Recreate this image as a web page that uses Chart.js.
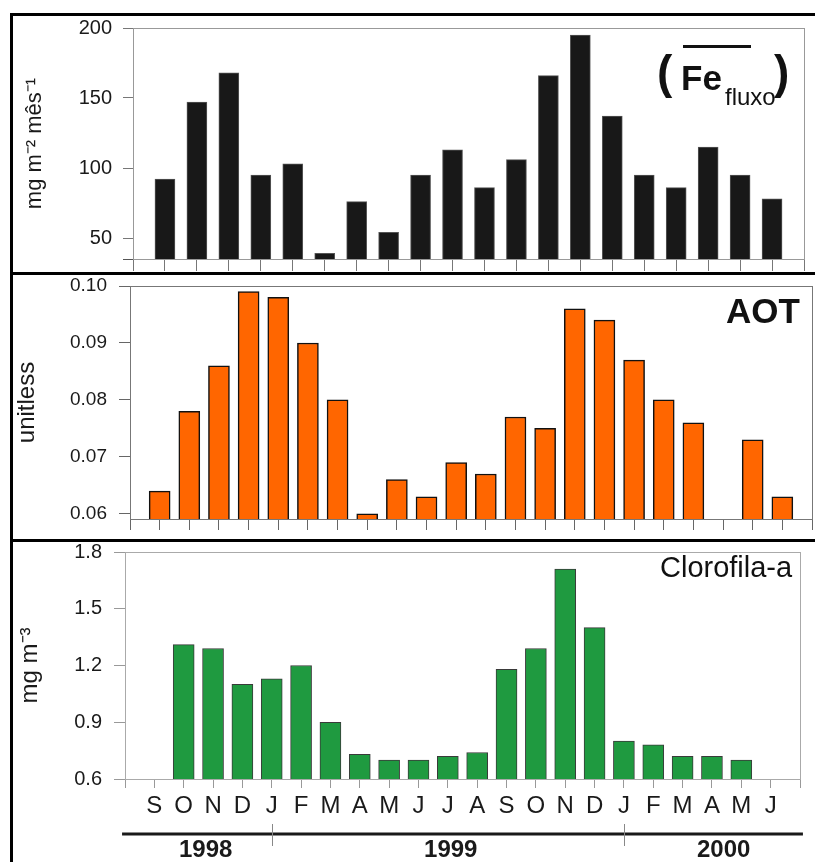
<!DOCTYPE html>
<html>
<head>
<meta charset="utf-8">
<script src="https://cdn.jsdelivr.net/npm/chart.js@4.4.1/dist/chart.umd.min.js"></script>
<style>
  body { margin: 0; background: #fff; }
  #page { position: relative; width: 815px; height: 862px; overflow: hidden;
          font-family: "Liberation Sans", Arial, sans-serif; color: #111; }
  .rule { position: absolute; background: #000; }
  .box { position: absolute; }
  .lbl { position: absolute; white-space: nowrap; line-height: 1; }
</style>
</head>
<body>
<div id="page">
  <div class="rule" style="left:10px;top:13px;width:805px;height:3px"></div>
  <div class="rule" style="left:10px;top:13px;width:3px;height:849px"></div>
  <div class="rule" style="left:10px;top:272px;width:805px;height:3px"></div>
  <div class="rule" style="left:10px;top:539px;width:805px;height:3px"></div>

  <div class="box" style="left:13px;top:16px;width:802px;height:256px"><canvas id="fluxChart"></canvas></div>
  <div class="box" style="left:13px;top:275px;width:802px;height:264px"><canvas id="aotChart"></canvas></div>
  <div class="box" style="left:13px;top:542px;width:802px;height:320px"><canvas id="chlChart"></canvas></div>

  <!-- panel labels -->
  <div class="lbl" style="left:657px;top:49px;font-size:46px;font-weight:bold">(</div>
  <div class="lbl" style="left:681px;top:60px;font-size:35px;font-weight:bold">Fe</div>
  <div class="lbl" style="left:725px;top:85px;font-size:24px">fluxo</div>
  <div class="rule" style="left:683px;top:45px;width:68px;height:3px;background:#111"></div>
  <div class="lbl" style="left:774px;top:49px;font-size:46px;font-weight:bold">)</div>

  <div class="lbl" style="left:726px;top:293px;font-size:35px;font-weight:bold">AOT</div>
  <div class="lbl" style="left:660px;top:553px;font-size:29px">Clorofila-a</div>
</div>

<script>
// values
const months = ['S', 'O', 'N', 'D', 'J', 'F', 'M', 'A', 'M', 'J', 'J',
                'A', 'S', 'O', 'N', 'D', 'J', 'F', 'M', 'A', 'M', 'J'];
const years = ['1998', '1999', '2000'];

const fluxValues = [92, 147, 168, 95, 103, 39, 76, 54, 95, 113,
                    86, 106, 166, 195, 137, 95, 86, 115, 95, 78];
const fluxTicks = [50, 100, 150, 200];

const aotValues = [0.064, 0.078, 0.086, 0.099, 0.098, 0.090, 0.080, 0.060, 0.066, 0.063, 0.069,
                   0.067, 0.077, 0.075, 0.096, 0.094, 0.087, 0.080, 0.076, null, 0.073, 0.063];
const aotTicks = [0.06, 0.07, 0.08, 0.09, 0.10];

const chlValues = [null, 1.31, 1.29, 1.10, 1.13, 1.20, 0.90, 0.73, 0.70, 0.70, 0.72,
                   0.74, 1.18, 1.29, 1.71, 1.40, 0.80, 0.78, 0.72, 0.72, 0.70, null];
const chlTicks = [0.6, 0.9, 1.2, 1.5, 1.8];

Chart.defaults.font.family = '"Liberation Sans", Arial, sans-serif';
Chart.defaults.color = '#1a1a1a';

// grey box round the plot area
const framePlugin = {
    id: 'frame',
    beforeDatasetsDraw(chart, args, opts) {
        const a = chart.chartArea;
        const ctx = chart.ctx;
        ctx.save();
        ctx.strokeStyle = opts.color || '#999';
        ctx.lineWidth = 1;
        ctx.strokeRect(a.left + 0.5, a.top + 0.5, a.right - a.left, a.bottom - a.top);
        if (opts.stub) {
            // axis line runs a little past the frame on the left
            ctx.strokeStyle = opts.stub;
            ctx.beginPath();
            ctx.moveTo(a.left - 10, a.bottom + 0.5);
            ctx.lineTo(a.left, a.bottom + 0.5);
            ctx.stroke();
        }
        ctx.restore();
    }
};

// year bar under the month axis (Jan ticks at month positions 5 and 17)
const yearPlugin = {
    id: 'yearAxis',
    afterDraw(chart) {
        const ctx = chart.ctx;
        const x = chart.scales.x;
        const lineY = 292;
        ctx.save();
        ctx.strokeStyle = '#1a1a1a';
        ctx.lineWidth = 3;
        ctx.beginPath();
        ctx.moveTo(x.getPixelForValue(-0.1), lineY);
        ctx.lineTo(x.getPixelForValue(23.1), lineY);
        ctx.stroke();
        ctx.strokeStyle = '#888';
        ctx.lineWidth = 1;
        [5, 17].forEach(function(v) {
            const px = Math.round(x.getPixelForValue(v)) + 0.5;
            ctx.beginPath();
            ctx.moveTo(px, lineY - 10);
            ctx.lineTo(px, lineY + 12);
            ctx.stroke();
        });
        ctx.fillStyle = '#1a1a1a';
        ctx.font = 'bold 24px "Liberation Sans", Arial, sans-serif';
        ctx.textAlign = 'center';
        ctx.textBaseline = 'alphabetic';
        [2.75, 11.1, 20.4].forEach(function(v, i) {
            ctx.fillText(years[i], x.getPixelForValue(v), 315);
        });
        ctx.restore();
    }
};

function makeBarChart(id, cfg) {
    return new Chart(document.getElementById(id), {
        type: 'bar',
        data: {
            datasets: [{
                data: cfg.values.map((v, i) => ({ x: i + 1, y: v })),
                backgroundColor: cfg.fill,
                borderColor: cfg.edge,
                borderWidth: cfg.edgeWidth,
                barThickness: cfg.barWidth
            }]
        },
        options: {
            animation: false,
            responsive: true,
            maintainAspectRatio: false,
            devicePixelRatio: 1,
            layout: { padding: { top: cfg.padTop, right: cfg.padRight, left: 0, bottom: 0 } },
            plugins: {
                legend: { display: false },
                tooltip: { enabled: false },
                frame: { color: cfg.frameColor, stub: cfg.stub }
            },
            scales: {
                x: {
                    type: 'linear',
                    min: 0,
                    max: cfg.slots,
                    offset: false,
                    grid: { offset: false, drawOnChartArea: false, tickLength: cfg.xTickLen, color: cfg.tickColor },
                    border: { color: cfg.axisColor, width: 1 },
                    afterBuildTicks: s => {
                        s.ticks = [];
                        for (let k = 0; k <= cfg.slots; k++) s.ticks.push({ value: k });
                    },
                    ticks: {
                        display: !!cfg.xLabels,
                        autoSkip: false,
                        maxRotation: 0,
                        padding: 6,
                        color: '#1a1a1a',
                        font: { size: 24, lineHeight: 1 },
                        callback: v => (cfg.xLabels && cfg.xLabels[v - 1]) || ''
                    },
                    afterFit: s => {
                        s.height = cfg.xHeight;
                        s.paddingLeft = 0;
                        s.paddingRight = 0;
                    }
                },
                y: {
                    min: cfg.yMin,
                    max: cfg.yMax,
                    beginAtZero: false,
                    grid: { drawOnChartArea: false, tickLength: cfg.yTickLen, color: cfg.tickColor },
                    border: { color: cfg.frameColor, width: 1 },
                    afterBuildTicks: s => { s.ticks = cfg.yTicks.map(v => ({ value: v })); },
                    ticks: {
                        padding: cfg.yPad,
                        color: '#1a1a1a',
                        font: { size: cfg.yFont, lineHeight: 1 },
                        callback: v => v.toFixed(cfg.digits)
                    },
                    title: {
                        display: true,
                        text: cfg.yTitle,
                        color: '#1a1a1a',
                        font: { size: cfg.titleFont },
                        padding: { top: cfg.titlePad, bottom: 0 }
                    },
                    afterFit: s => {
                        s.width = cfg.yWidth;
                        s.paddingTop = 0;
                        s.paddingBottom = 0;
                    }
                }
            }
        },
        plugins: [framePlugin].concat(cfg.extra || [])
    });
}

// Iron flux panel
makeBarChart('fluxChart', {
    values: fluxValues, slots: 21,
    fill: '#181818', edge: '#555', edgeWidth: 1, barWidth: 20,
    padTop: 12, padRight: 11, xHeight: 13, yWidth: 120,
    xTickLen: 12, yTickLen: 10, yPad: 11, yFont: 20,
    tickColor: '#777', axisColor: '#555', frameColor: '#999', stub: '#555',
    yMin: 35, yMax: 200, yTicks: fluxTicks, digits: 0,
    yTitle: 'mg m\u207B\u00B2 m\u00EAs\u207B\u00B9', titleFont: 22, titlePad: 9
});

// Aerosol optical thickness panel
makeBarChart('aotChart', {
    values: aotValues, slots: 23,
    fill: '#FF6600', edge: '#111', edgeWidth: 1.5, barWidth: 21,
    padTop: 11, padRight: 3, xHeight: 20, yWidth: 117,
    xTickLen: 11, yTickLen: 11, yPad: 12, yFont: 19,
    tickColor: '#666', axisColor: '#111', frameColor: '#777',
    yMin: 0.0591, yMax: 0.100, yTicks: aotTicks, digits: 2,
    yTitle: 'unitless', titleFont: 24, titlePad: 0
});

// Chlorophyll-a panel
makeBarChart('chlChart', {
    values: chlValues, slots: 23, xLabels: months,
    fill: '#1F9A40', edge: '#3a3a3a', edgeWidth: 1, barWidth: 21,
    padTop: 10, padRight: 15, xHeight: 83, yWidth: 112,
    xTickLen: 9, yTickLen: 11, yPad: 12, yFont: 20,
    tickColor: '#999', axisColor: '#888', frameColor: '#aaa',
    yMin: 0.6, yMax: 1.8, yTicks: chlTicks, digits: 1,
    yTitle: 'mg m\u207B\u00B3', titleFont: 24, titlePad: 3,
    extra: [yearPlugin]
});
</script>
</body>
</html>
